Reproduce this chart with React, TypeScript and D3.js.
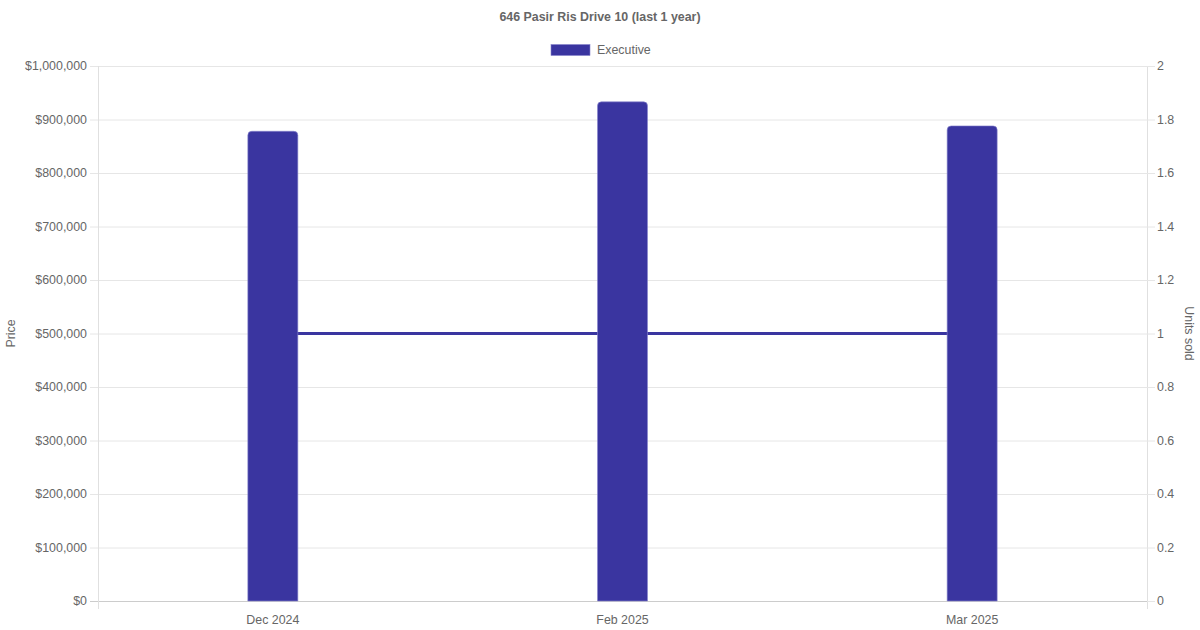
import { useEffect, useRef } from "react";
import * as d3 from "d3";

const months = ["Dec 2024", "Feb 2025", "Mar 2025"];
const prices = [878000, 933000, 888000];
const unitsSold = [1, 1, 1];
const priceTicks = [0, 100000, 200000, 300000, 400000, 500000, 600000, 700000, 800000, 900000, 1000000];
const unitTicks = [0, 0.2, 0.4, 0.6, 0.8, 1, 1.2, 1.4, 1.6, 1.8, 2];

const W = 1200;
const H = 630;
const BAR = "#3a35a0";
const TXT = "#666";
const FONT = "'Liberation Sans', Arial, Helvetica, sans-serif";

export default function App() {
  const svgRef = useRef<SVGSVGElement>(null);

  useEffect(() => {
    if (!svgRef.current) return;
    const svg = d3.select(svgRef.current);
    svg.selectAll("*").remove();

    const left = 98, right = 1147, top = 66, bottom = 601;

    const x = d3.scaleBand().domain(months).range([left, right]);
    const y = d3.scaleLinear().domain([0, 1000000]).range([bottom, top]);
    const y2 = d3.scaleLinear().domain([0, 2]).range([bottom, top]);

    // grid
    svg.append("g")
      .selectAll("line")
      .data(priceTicks)
      .enter()
      .append("line")
      .attr("x1", left - 8)
      .attr("x2", right)
      .attr("y1", (d) => y(d) + 0.5)
      .attr("y2", (d) => y(d) + 0.5)
      .style("stroke", (d) => (d === 0 ? "#ccc" : "#e6e6e6"))
      .style("stroke-width", 1);

    // axis border lines
    svg.append("line")
      .attr("x1", left + 0.5).attr("x2", left + 0.5)
      .attr("y1", top).attr("y2", bottom + 8)
      .style("stroke", "#e0e0e0");
    svg.append("line")
      .attr("x1", right + 0.5).attr("x2", right + 0.5)
      .attr("y1", top).attr("y2", bottom + 8)
      .style("stroke", "#e0e0e0");
    svg.append("g")
      .selectAll("line")
      .data(priceTicks)
      .enter()
      .append("line")
      .attr("x1", right)
      .attr("x2", right + 8)
      .attr("y1", (d) => y(d) + 0.5)
      .attr("y2", (d) => y(d) + 0.5)
      .style("stroke", "#e6e6e6");

    // left tick labels
    svg.append("g")
      .selectAll("text")
      .data(priceTicks)
      .enter()
      .append("text")
      .attr("x", left - 11)
      .attr("y", (d) => y(d))
      .attr("dy", "0.35em")
      .attr("text-anchor", "end")
      .style("fill", TXT)
      .style("font-size", "12.4px")
      .style("font-family", FONT)
      .text((d) => "$" + d3.format(",")(d));

    // right tick labels
    svg.append("g")
      .selectAll("text")
      .data(unitTicks)
      .enter()
      .append("text")
      .attr("x", right + 10)
      .attr("y", (d) => y2(d))
      .attr("dy", "0.35em")
      .attr("text-anchor", "start")
      .style("fill", TXT)
      .style("font-size", "12.4px")
      .style("font-family", FONT)
      .text((d) => String(d));

    // x labels
    svg.append("g")
      .selectAll("text")
      .data(months)
      .enter()
      .append("text")
      .attr("x", (d) => x(d)! + x.bandwidth() / 2)
      .attr("y", bottom + 23)
      .attr("text-anchor", "middle")
      .style("fill", TXT)
      .style("font-size", "12.4px")
      .style("font-family", FONT)
      .text((d) => d);

    // line (units sold)
    const line = d3.line<number>()
      .x((_, i) => x(months[i])! + x.bandwidth() / 2)
      .y((d) => y2(d));
    svg.append("path")
      .datum(unitsSold)
      .attr("d", line)
      .style("fill", "none")
      .style("stroke", BAR)
      .style("stroke-width", 3);

    // bars
    const bw = 50, r = 4;
    svg.append("g")
      .selectAll("path")
      .data(prices)
      .enter()
      .append("path")
      .attr("d", (d, i) => {
        const cx = x(months[i])! + x.bandwidth() / 2;
        const x0 = cx - bw / 2, x1 = cx + bw / 2;
        const yt = y(d), yb = y(0);
        return `M${x0},${yb}V${yt + r}Q${x0},${yt} ${x0 + r},${yt}H${x1 - r}Q${x1},${yt} ${x1},${yt + r}V${yb}Z`;
      })
      .style("fill", BAR)
      .style("stroke", "#8884cc")
      .style("stroke-width", 0.6);

    // title
    svg.append("text")
      .attr("x", W / 2)
      .attr("y", 21)
      .attr("text-anchor", "middle")
      .style("fill", TXT)
      .style("font-size", "12.4px")
      .style("font-weight", "bold")
      .style("font-family", FONT)
      .text("646 Pasir Ris Drive 10 (last 1 year)");

    // legend
    svg.append("rect")
      .attr("x", 551).attr("y", 44.5)
      .attr("width", 39).attr("height", 11)
      .style("fill", BAR)
      .style("stroke", "#8884cc")
      .style("stroke-width", 0.6);
    svg.append("text")
      .attr("x", 597)
      .attr("y", 50)
      .attr("dy", "0.35em")
      .style("fill", TXT)
      .style("font-size", "12.4px")
      .style("font-family", FONT)
      .text("Executive");

    // axis titles
    svg.append("text")
      .attr("transform", `translate(15,${(top + bottom) / 2}) rotate(-90)`)
      .attr("text-anchor", "middle")
      .style("fill", TXT)
      .style("font-size", "12.4px")
      .style("font-family", FONT)
      .text("Price");
    svg.append("text")
      .attr("transform", `translate(1185,${(top + bottom) / 2}) rotate(90)`)
      .attr("text-anchor", "middle")
      .style("fill", TXT)
      .style("font-size", "12.4px")
      .style("font-family", FONT)
      .text("Units sold");
  }, []);

  return (
    <svg
      ref={svgRef}
      width={W}
      height={H}
      style={{ position: "absolute", left: 0, top: 0, background: "#fff" }}
    />
  );
}
